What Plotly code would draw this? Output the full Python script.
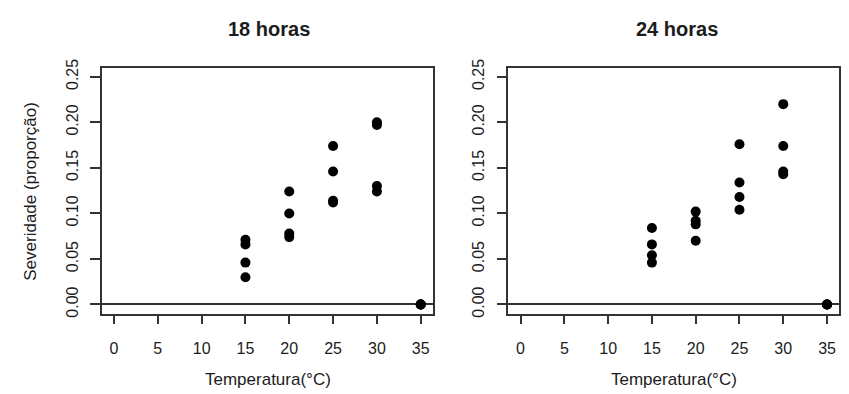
import plotly.graph_objects as go

# Data
temp_levels = [15, 20, 25, 30, 35]
x_18 = [15, 15, 15, 15, 20, 20, 20, 20, 25, 25, 25, 25, 30, 30, 30, 30, 35, 35, 35, 35]
y_18 = [0.071, 0.066, 0.046, 0.030,
        0.124, 0.100, 0.078, 0.074,
        0.174, 0.146, 0.114, 0.112,
        0.200, 0.197, 0.130, 0.124,
        0.0, 0.0, 0.0, 0.0]
x_24 = [15, 15, 15, 15, 20, 20, 20, 20, 25, 25, 25, 25, 30, 30, 30, 30, 35, 35, 35, 35]
y_24 = [0.084, 0.066, 0.054, 0.046,
        0.102, 0.092, 0.088, 0.070,
        0.176, 0.134, 0.118, 0.104,
        0.220, 0.174, 0.146, 0.143,
        0.0, 0.0, 0.0, 0.0]
x_ticks = [0, 5, 10, 15, 20, 25, 30, 35]
y_ticks = [0.00, 0.05, 0.10, 0.15, 0.20, 0.25]
y_tick_labels = ["0.00", "0.05", "0.10", "0.15", "0.20", "0.25"]
titles = ["18 horas", "24 horas"]
x_title = "Temperatura(°C)"
y_title = "Severidade (proporção)"

W, H = 849, 394
FONT = "Liberation Sans, Arial, Helvetica, sans-serif"
TXT = "#1c1c1c"

fig = go.Figure()
fig.add_trace(go.Scatter(x=x_18, y=y_18, mode="markers",
                         marker=dict(size=10, color="black"),
                         xaxis="x", yaxis="y", showlegend=False))
fig.add_trace(go.Scatter(x=x_24, y=y_24, mode="markers",
                         marker=dict(size=10, color="black"),
                         xaxis="x2", yaxis="y2", showlegend=False))

def xax(domain, anchor):
    return dict(domain=domain, anchor=anchor, range=[-1.4, 36.4],
                tickmode="array", tickvals=x_ticks,
                ticks="outside", ticklen=9, tickwidth=1.5, tickcolor="#333",
                showline=True, mirror=True, linecolor="#333", linewidth=1.5,
                showgrid=False, zeroline=False,
                ticklabelstandoff=10,
                tickfont=dict(family=FONT, size=16, color=TXT))

def yax(domain, anchor):
    return dict(domain=domain, anchor=anchor, range=[-0.01, 0.26],
                tickmode="array", tickvals=y_ticks, ticktext=y_tick_labels,
                tickangle=-90,
                ticks="outside", ticklen=10, tickwidth=1.5, tickcolor="#333",
                showline=True, mirror=True, linecolor="#333", linewidth=1.5,
                showgrid=False, zeroline=True, zerolinecolor="#333", zerolinewidth=1.5,
                ticklabelstandoff=6,
                tickfont=dict(family=FONT, size=16, color=TXT))

ydom = [1 - 315 / H, 1 - 60.7 / H]
fig.update_layout(
    width=W, height=H,
    margin=dict(l=0, r=0, t=0, b=0),
    paper_bgcolor="white", plot_bgcolor="white",
    xaxis=xax([101.7 / W, 433 / W], "y"),
    yaxis=yax(ydom, "x"),
    xaxis2=xax([508.3 / W, 839.3 / W], "y2"),
    yaxis2=yax(ydom, "x2"),
)

ann = []
for cx, t in [(269, titles[0]), (677, titles[1])]:
    ann.append(dict(x=cx / W, y=1 - 21 / H, xref="paper", yref="paper",
                    text="<b>%s</b>" % t, showarrow=False,
                    xanchor="center", yanchor="middle",
                    font=dict(family=FONT, size=20, color=TXT)))
for cx in [267.5, 673.5]:
    ann.append(dict(x=cx / W, y=1 - 383 / H, xref="paper", yref="paper",
                    text=x_title, showarrow=False,
                    xanchor="center", yanchor="middle",
                    font=dict(family=FONT, size=17, color=TXT)))
ann.append(dict(x=31 / W, y=1 - 189 / H, xref="paper", yref="paper",
                text=y_title, showarrow=False, textangle=-90,
                xanchor="center", yanchor="middle",
                font=dict(family=FONT, size=17, color=TXT)))
fig.update_layout(annotations=ann)

fig.write_html("out.html")
